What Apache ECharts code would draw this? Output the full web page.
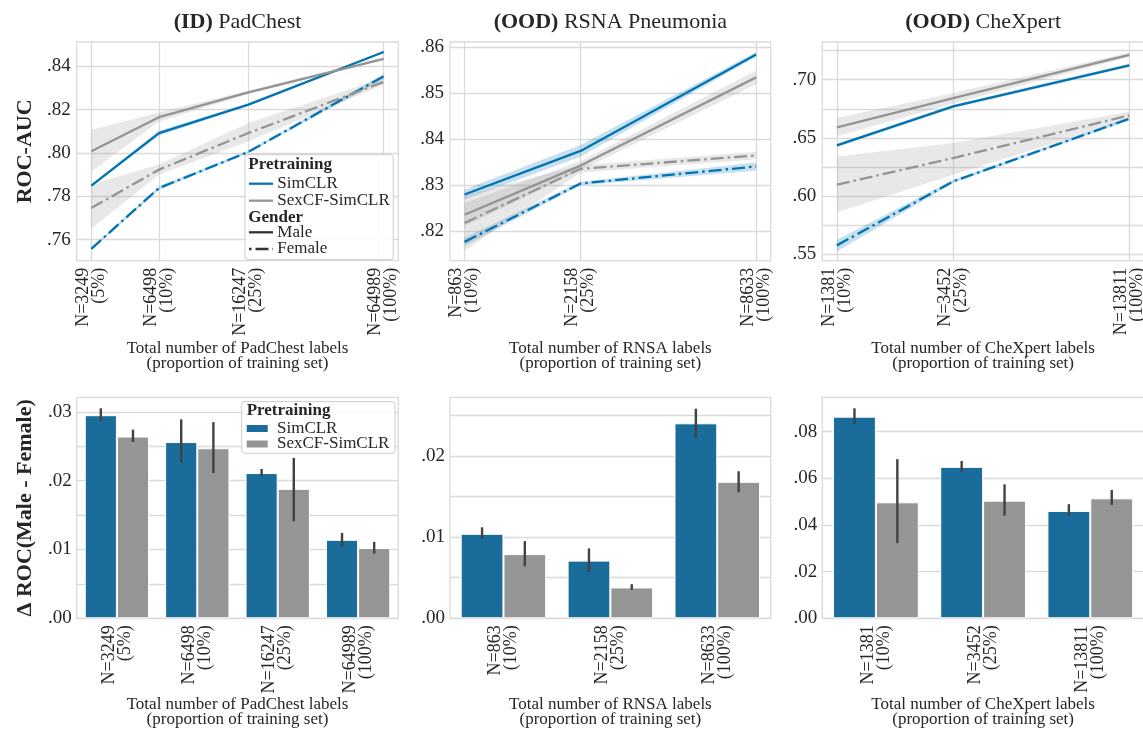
<!DOCTYPE html>
<html><head><meta charset="utf-8">
<script src="https://cdn.jsdelivr.net/npm/echarts@6/dist/echarts.min.js"></script>
<style>html,body{margin:0;padding:0;background:#fff}#c{width:1143px;height:729px}</style>
</head><body><div id="c"></div><script>
// ---------------- data ----------------
const padN = [3249, 6498, 16247, 64989];
const padPct = ['5%', '10%', '25%', '100%'];
const rsnaN = [863, 2158, 8633];
const rsnaPct = ['10%', '25%', '100%'];
const chexN = [1381, 3452, 13811];
const chexPct = ['10%', '25%', '100%'];

// ROC-AUC, PadChest
const padSimMale = [0.7849, 0.8092, 0.8223, 0.8466];
const padSimMaleLo = [0.7843, 0.8080, 0.8218, 0.8462];
const padSimMaleHi = [0.7855, 0.8102, 0.8228, 0.8470];
const padSexMale = [0.8008, 0.8165, 0.8280, 0.8434];
const padSexMaleLo = [0.7915, 0.8145, 0.8272, 0.8429];
const padSexMaleHi = [0.8107, 0.8187, 0.8288, 0.8439];
const padSexFemale = [0.7746, 0.7923, 0.8092, 0.8328];
const padSexFemaleLo = [0.7651, 0.7900, 0.8054, 0.8315];
const padSexFemaleHi = [0.7854, 0.7947, 0.8138, 0.8346];
const padSimFemale = [0.7558, 0.7838, 0.8005, 0.8354];
const padSimFemaleLo = [0.7552, 0.7829, 0.8000, 0.8340];
const padSimFemaleHi = [0.7564, 0.7846, 0.8010, 0.8364];

// ROC-AUC, RSNA
const rsnaSimMale = [0.8280, 0.8375, 0.8585];
const rsnaSimMaleLo = [0.8269, 0.8362, 0.8580];
const rsnaSimMaleHi = [0.8291, 0.8388, 0.8590];
const rsnaSexMale = [0.8236, 0.8343, 0.8535];
const rsnaSexMaleLo = [0.8211, 0.8333, 0.8520];
const rsnaSexMaleHi = [0.8261, 0.8353, 0.8550];
const rsnaSexFemale = [0.8218, 0.8336, 0.8365];
const rsnaSexFemaleLo = [0.8158, 0.8328, 0.8357];
const rsnaSexFemaleHi = [0.8278, 0.8344, 0.8373];
const rsnaSimFemale = [0.8177, 0.8304, 0.8341];
const rsnaSimFemaleLo = [0.8168, 0.8300, 0.8332];
const rsnaSimFemaleHi = [0.8186, 0.8308, 0.8350];

// ROC-AUC, CheXpert
const chexSimMale = [0.6435, 0.6771, 0.7124];
const chexSimMaleLo = [0.6420, 0.6757, 0.7110];
const chexSimMaleHi = [0.6450, 0.6785, 0.7138];
const chexSexMale = [0.6590, 0.6842, 0.7215];
const chexSexMaleLo = [0.6513, 0.6795, 0.7195];
const chexSexMaleHi = [0.6670, 0.6885, 0.7235];
const chexSexFemale = [0.6096, 0.6326, 0.6693];
const chexSexFemaleLo = [0.5860, 0.6182, 0.6660];
const chexSexFemaleHi = [0.6340, 0.6455, 0.6725];
const chexSimFemale = [0.5574, 0.6125, 0.6664];
const chexSimFemaleLo = [0.5522, 0.6110, 0.6650];
const chexSimFemaleHi = [0.5622, 0.6140, 0.6678];

// Delta ROC (Male - Female)
const padDiffSim = [0.0295, 0.0256, 0.0211, 0.0114];
const padDiffSimLo = [0.0286, 0.0226, 0.0206, 0.0104];
const padDiffSimHi = [0.0305, 0.0289, 0.0217, 0.0124];
const padDiffSex = [0.0264, 0.0247, 0.0188, 0.0102];
const padDiffSexLo = [0.0256, 0.0211, 0.0141, 0.0094];
const padDiffSexHi = [0.0274, 0.0285, 0.0233, 0.0111];
const rsnaDiffSim = [0.0104, 0.0071, 0.0240];
const rsnaDiffSimLo = [0.0098, 0.0057, 0.0222];
const rsnaDiffSimHi = [0.0112, 0.0086, 0.0258];
const rsnaDiffSex = [0.0079, 0.0038, 0.0168];
const rsnaDiffSexLo = [0.0064, 0.0035, 0.0155];
const rsnaDiffSexHi = [0.0095, 0.0042, 0.0181];
const chexDiffSim = [0.0864, 0.0649, 0.0460];
const chexDiffSimLo = [0.0833, 0.0627, 0.0439];
const chexDiffSimHi = [0.0900, 0.0674, 0.0489];
const chexDiffSex = [0.0497, 0.0504, 0.0514];
const chexDiffSexLo = [0.0322, 0.0440, 0.0486];
const chexDiffSexHi = [0.0682, 0.0574, 0.0550];

// tick values
const padYTicks = [0.76, 0.78, 0.80, 0.82, 0.84];
const padYLabels = [0.76, 0.78, 0.80, 0.82, 0.84];
const rsnaYTicks = [0.82, 0.83, 0.84, 0.85, 0.86];
const rsnaYLabels = [0.82, 0.83, 0.84, 0.85, 0.86];
const chexYTicks = [0.55, 0.575, 0.60, 0.625, 0.65, 0.675, 0.70, 0.725];
const chexYLabels = [0.55, 0.60, 0.65, 0.70];
const padDYTicks = [0, 0.005, 0.01, 0.015, 0.02, 0.025, 0.03];
const padDYLabels = [0, 0.01, 0.02, 0.03];
const rsnaDYTicks = [0, 0.005, 0.01, 0.015, 0.02, 0.025];
const rsnaDYLabels = [0, 0.01, 0.02];
const chexDYTicks = [0, 0.02, 0.04, 0.06, 0.08];
const chexDYLabels = [0, 0.02, 0.04, 0.06, 0.08];

const titles = [['(ID)', ' PadChest'], ['(OOD)', ' RSNA Pneumonia'], ['(OOD)', ' CheXpert']];
const datasetNames = ['PadChest', 'RNSA', 'CheXpert'];

// ---------------- style ----------------
const FONT = 'Liberation Serif';
const TXT = '#262626';
const BLUE = '#0173b2', GRAY = '#949494';
const BAR_BLUE = '#1a6c9b', BAR_GRAY = '#959595';
const GRID_C = '#dadada';
const DASHDOT = [13, 4, 2.5, 4];

const fmt = v => v.toFixed(2).replace(/^0/, '');

const panelLeft = [76.7, 450, 822.3];
const panelW = [321.6, 320.7, 321.6];
const topY = 42, topH = 218.7, botY = 397.3, botH = 221;

const topPanels = [
  {N: padN, pct: padPct, yr: [0.7503, 0.8512], ticks: padYTicks, labels: padYLabels,
   groups: [
     [padSimMale, padSimMaleLo, padSimMaleHi, BLUE, 'solid'],
     [padSimFemale, padSimFemaleLo, padSimFemaleHi, BLUE, DASHDOT],
     [padSexMale, padSexMaleLo, padSexMaleHi, GRAY, 'solid'],
     [padSexFemale, padSexFemaleLo, padSexFemaleHi, GRAY, DASHDOT]]},
  {N: rsnaN, pct: rsnaPct, yr: [0.8136, 0.8612], ticks: rsnaYTicks, labels: rsnaYLabels,
   groups: [
     [rsnaSimMale, rsnaSimMaleLo, rsnaSimMaleHi, BLUE, 'solid'],
     [rsnaSimFemale, rsnaSimFemaleLo, rsnaSimFemaleHi, BLUE, DASHDOT],
     [rsnaSexMale, rsnaSexMaleLo, rsnaSexMaleHi, GRAY, 'solid'],
     [rsnaSexFemale, rsnaSexFemaleLo, rsnaSexFemaleHi, GRAY, DASHDOT]]},
  {N: chexN, pct: chexPct, yr: [0.5442, 0.7325], ticks: chexYTicks, labels: chexYLabels,
   groups: [
     [chexSimMale, chexSimMaleLo, chexSimMaleHi, BLUE, 'solid'],
     [chexSimFemale, chexSimFemaleLo, chexSimFemaleHi, BLUE, DASHDOT],
     [chexSexMale, chexSexMaleLo, chexSexMaleHi, GRAY, 'solid'],
     [chexSexFemale, chexSexFemaleLo, chexSexFemaleHi, GRAY, DASHDOT]]}
];
const botPanels = [
  {N: padN, pct: padPct, yr: [0, 0.0321], ticks: padDYTicks, labels: padDYLabels,
   sim: [padDiffSim, padDiffSimLo, padDiffSimHi], sex: [padDiffSex, padDiffSexLo, padDiffSexHi]},
  {N: rsnaN, pct: rsnaPct, yr: [0, 0.0272], ticks: rsnaDYTicks, labels: rsnaDYLabels,
   sim: [rsnaDiffSim, rsnaDiffSimLo, rsnaDiffSimHi], sex: [rsnaDiffSex, rsnaDiffSexLo, rsnaDiffSexHi]},
  {N: chexN, pct: chexPct, yr: [0, 0.0947], ticks: chexDYTicks, labels: chexDYLabels,
   sim: [chexDiffSim, chexDiffSimLo, chexDiffSimHi], sex: [chexDiffSex, chexDiffSexLo, chexDiffSexHi]}
];

const grid = [], xAxis = [], yAxis = [], series = [];
const tickLabelStyle = {fontFamily: FONT, fontSize: 19, color: TXT};
const xLabelStyle = {fontFamily: FONT, fontSize: 18, lineHeight: 16, color: TXT};
const nameStyle = {fontFamily: FONT, fontSize: 17, lineHeight: 15, color: TXT};

topPanels.forEach((p, i) => {
  grid.push({left: panelLeft[i], top: topY, width: panelW[i], height: topH, show: true,
    borderColor: GRID_C, borderWidth: 1.3, backgroundColor: 'transparent', outerBoundsMode: 'none'});
  const lx = p.N.map(n => Math.log10(n));
  const span = lx[lx.length - 1] - lx[0];
  const labelOf = v => { const k = lx.findIndex(x => Math.abs(x - v) < 1e-9); return k < 0 ? '' : 'N=' + p.N[k] + '\n(' + p.pct[k] + ')'; };
  xAxis.push({type: 'value', gridIndex: i, min: lx[0] - 0.05 * span, max: lx[lx.length - 1] + 0.05 * span,
    axisLine: {show: false}, axisTick: {show: false, customValues: lx},
    splitLine: {show: true, lineStyle: {color: GRID_C, width: 1.3}},
    axisLabel: Object.assign({customValues: lx, formatter: labelOf, rotate: 90, margin: 7}, xLabelStyle),
    name: 'Total number of ' + datasetNames[i] + ' labels\n(proportion of training set)',
    nameLocation: 'middle', nameGap: 80, nameMoveOverlap: false, nameTextStyle: nameStyle});
  yAxis.push({type: 'value', gridIndex: i, min: p.yr[0], max: p.yr[1],
    axisLine: {show: false}, axisTick: {show: false, customValues: p.ticks},
    splitLine: {show: true, lineStyle: {color: GRID_C, width: 1.3}},
    axisLabel: Object.assign({customValues: p.labels, formatter: fmt, margin: 6}, tickLabelStyle),
    name: i === 0 ? 'ROC-AUC' : '', nameLocation: 'middle', nameGap: 40, nameMoveOverlap: false,
    nameTextStyle: {fontFamily: FONT, fontSize: 22, fontWeight: 'bold', color: TXT}});
  p.groups.forEach(([mean, lo, hi, color, dash]) => {
    series.push({type: 'custom', xAxisIndex: i, yAxisIndex: i, silent: true, z: 1,
      data: lx.map((x, k) => [x, lo[k], hi[k]]),
      encode: {x: 0, y: [1, 2]},
      renderItem: (params, api) => {
        if (params.dataIndex !== 0) return null;
        const up = lx.map((x, k) => api.coord([x, hi[k]]));
        const dn = lx.map((x, k) => api.coord([x, lo[k]])).reverse();
        return {type: 'polygon', shape: {points: up.concat(dn)},
          style: {fill: color, opacity: 0.22}};
      }});
  });
  p.groups.forEach(([mean, lo, hi, color, dash]) => {
    series.push({type: 'line', xAxisIndex: i, yAxisIndex: i, z: 3, symbol: 'none', silent: true,
      data: lx.map((x, k) => [x, mean[k]]),
      lineStyle: {color: color, width: 2.3, type: dash}});
  });
});

botPanels.forEach((p, j) => {
  const gi = 3 + j;
  grid.push({left: panelLeft[j], top: botY, width: panelW[j], height: botH, show: true,
    borderColor: GRID_C, borderWidth: 1.3, backgroundColor: 'transparent', outerBoundsMode: 'none'});
  const cats = p.N.map((n, k) => 'N=' + n + '\n(' + p.pct[k] + ')');
  xAxis.push({type: 'category', gridIndex: gi, data: cats, boundaryGap: true,
    axisLine: {show: false}, axisTick: {show: false}, splitLine: {show: false},
    axisLabel: Object.assign({rotate: 90, margin: 7, interval: 0}, xLabelStyle),
    name: 'Total number of ' + datasetNames[j] + ' labels\n(proportion of training set)',
    nameLocation: 'middle', nameGap: 79, nameMoveOverlap: false, nameTextStyle: nameStyle});
  yAxis.push({type: 'value', gridIndex: gi, min: p.yr[0], max: p.yr[1],
    axisLine: {show: false}, axisTick: {show: false, customValues: p.ticks},
    splitLine: {show: true, lineStyle: {color: GRID_C, width: 1.3}},
    axisLabel: Object.assign({customValues: p.labels, formatter: fmt, margin: 5}, tickLabelStyle),
    name: j === 0 ? 'Δ ROC(Male - Female)' : '', nameLocation: 'middle', nameGap: 40, nameMoveOverlap: false,
    nameTextStyle: {fontFamily: FONT, fontSize: 22, fontWeight: 'bold', color: TXT}});
  [[p.sim, BAR_BLUE, 'SimCLR'], [p.sex, BAR_GRAY, 'SexCF-SimCLR']].forEach(([arr, color, name]) => {
    series.push({type: 'bar', name: name, xAxisIndex: gi, yAxisIndex: gi, data: arr[0],
      barGap: '0%', barCategoryGap: '20%', silent: true, z: 2,
      itemStyle: {color: color, borderColor: '#ffffff', borderWidth: 1}});
  });
  [[p.sim, -0.2], [p.sex, 0.2]].forEach(([arr, off]) => {
    series.push({type: 'custom', xAxisIndex: gi, yAxisIndex: gi, silent: true, z: 5,
      data: arr[0].map((v, k) => [k, arr[1][k], arr[2][k]]),
      encode: {x: 0, y: [1, 2]},
      renderItem: (params, api) => {
        const c = api.value(0);
        const a = api.coord([c, api.value(1)]);
        const b = api.coord([c, api.value(2)]);
        const bw = api.size([1, 0])[0];
        const x = a[0] + off * bw;
        return {type: 'line', shape: {x1: x, y1: a[1], x2: x, y2: b[1]},
          style: {stroke: '#424242', lineWidth: 2.4}};
      }});
  });
});

// titles and legends
const graphic = [];
titles.forEach((t, i) => {
  graphic.push({type: 'text', x: panelLeft[i] + panelW[i] / 2, y: 22, z: 50,
    style: {text: '{b|' + t[0] + '}{n|' + t[1] + '}', align: 'center', verticalAlign: 'middle',
      rich: {b: {fontFamily: FONT, fontSize: 22, fontWeight: 'bold', fill: TXT},
             n: {fontFamily: FONT, fontSize: 22, fill: TXT}}}});
});
const lgText = (txt, x, y, bold) => ({type: 'text', x: x, y: y, z: 101,
  style: {text: txt, fontFamily: FONT, fontSize: 17, fontWeight: bold ? 'bold' : 'normal', fill: TXT,
    align: 'left', verticalAlign: 'middle'}});
const lgLine = (x, y, color, dash) => ({type: 'line', z: 101,
  shape: {x1: x, y1: y, x2: x + 24, y2: y}, style: {stroke: color, lineWidth: 2.3, lineDash: dash}});
graphic.push({type: 'rect', z: 100, shape: {x: 245, y: 154.7, width: 148.3, height: 105, r: 3},
  style: {fill: 'rgba(255,255,255,0.85)', stroke: '#cccccc', lineWidth: 1}});
graphic.push(lgText('Pretraining', 248.3, 165, true));
graphic.push(lgLine(249, 183.7, BLUE, null));
graphic.push(lgText('SimCLR', 277.3, 183.7, false));
graphic.push(lgLine(249, 200.7, GRAY, null));
graphic.push(lgText('SexCF-SimCLR', 277.3, 200.7, false));
graphic.push(lgText('Gender', 248.3, 218, true));
graphic.push(lgLine(249, 232.3, '#333333', null));
graphic.push(lgText('Male', 277.3, 232.3, false));
graphic.push(lgLine(249, 249, '#333333', [2.5, 4, 13, 4]));
graphic.push(lgText('Female', 277.3, 249, false));

graphic.push({type: 'rect', z: 100, shape: {x: 241.7, y: 401.7, width: 153.3, height: 51.6, r: 3},
  style: {fill: 'rgba(255,255,255,0.85)', stroke: '#cccccc', lineWidth: 1}});
graphic.push(lgText('Pretraining', 246.7, 411, true));
graphic.push({type: 'rect', z: 101, shape: {x: 246.7, y: 425, width: 21, height: 7}, style: {fill: BAR_BLUE}});
graphic.push(lgText('SimCLR', 277, 428.3, false));
graphic.push({type: 'rect', z: 101, shape: {x: 246.7, y: 440.5, width: 21, height: 7}, style: {fill: BAR_GRAY}});
graphic.push(lgText('SexCF-SimCLR', 277, 443.5, false));

const chart = echarts.init(document.getElementById('c'), null, {renderer: 'canvas'});
chart.setOption({
  backgroundColor: '#ffffff',
  animation: false,
  textStyle: {fontFamily: FONT},
  grid: grid, xAxis: xAxis, yAxis: yAxis, series: series, graphic: graphic
});
</script></body></html>
